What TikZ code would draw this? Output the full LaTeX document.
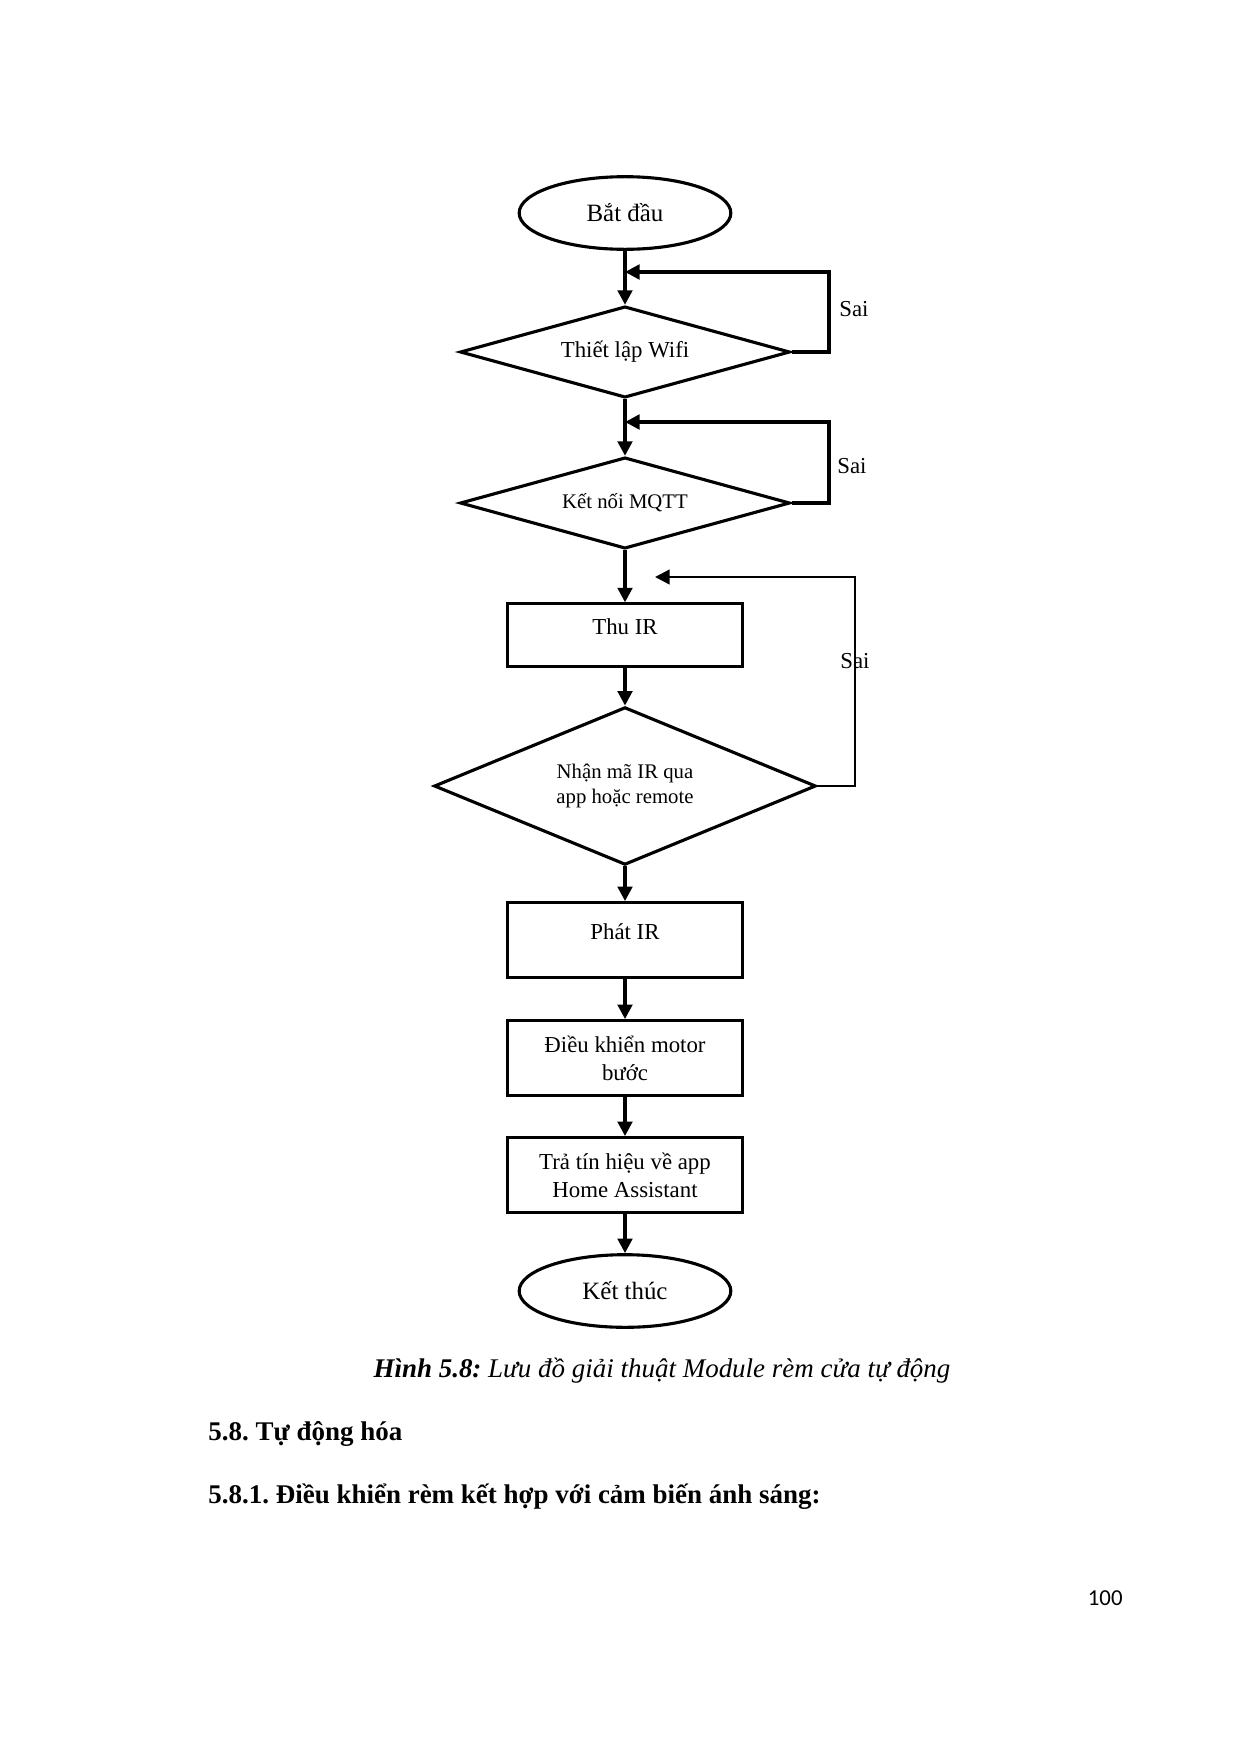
\documentclass[tikz,border=0pt]{standalone}
\usepackage{fontspec}
\setmainfont{Liberation Serif}
\newfontfamily\pagenofont{Carlito}
\usetikzlibrary{shapes.geometric}
\usetikzlibrary{arrows.meta}

\tikzset{
    terminal/.style={ellipse, draw, line width=1.5pt, minimum width=102pt, minimum height=35pt, inner sep=0pt, font=\fontsize{12}{14}\selectfont},
    decision/.style={diamond, draw, line width=1.5pt, inner sep=0pt, aspect=3, align=center, font=\fontsize{11}{12}\selectfont},
    process/.style={rectangle, draw, line width=1.5pt, minimum width=113pt, minimum height=36pt, inner sep=0pt, align=center, font=\fontsize{11}{13.4}\selectfont},
    toptext/.style={text depth=8pt},
    flow/.style={line width=1.6pt, -{Triangle[length=7pt,width=7pt]}},
    saitext/.style={anchor=west, font=\fontsize{11}{13}\selectfont}
}

\begin{document}
\frenchspacing
\begin{tikzpicture}[x=0.016933cm, y=-0.016933cm]

    \useasboundingbox (0, 0) rectangle (1240, 1754);

    % The flowchart blocks
    \node[terminal] (start) at (625, 213) {Bắt đầu};
    \node[decision, minimum width=159pt, minimum height=44pt] (wifi) at (625, 352) {Thiết lập Wifi};
    \node[decision, minimum width=159pt, minimum height=44pt, font=\fontsize{10}{12}\selectfont] (mqtt) at (625, 503) {Kết nối MQTT};
    \node[process, toptext, minimum height=30pt] (thuir) at (625, 635) {Thu IR};
    \node[decision, minimum width=184pt, minimum height=76pt, font=\fontsize{10}{12}\selectfont] (nhanma) at (625, 786) {Nhận mã IR qua\\app hoặc remote};
    \node[process, toptext] (phatir) at (625, 940) {Phát IR};
    \node[process] (motor) at (625, 1058) {Điều khiển motor\\bước};
    \node[process] (phanhoi) at (625, 1175) {Trả tín hiệu về app\\Home Assistant};
    \node[terminal] (stop) at (625, 1291) {Kết thúc};

    % Main flow
    \foreach \a/\b in {start/wifi, wifi/mqtt, mqtt/thuir, thuir/nhanma, nhanma/phatir, phatir/motor, motor/phanhoi, phanhoi/stop}{
        \draw[flow] (\a.south) -- (\b.north);
    }

    % Loops back on "Sai"
    \coordinate (loopwifi) at (829, 272);
    \coordinate (loopmqtt) at (829, 422);
    \coordinate (loopir) at (855, 577);
    \coordinate (tipir) at (655, 577);

    \draw[flow] (wifi.east) -| (loopwifi) -- (loopwifi -| start.south);
    \draw[flow] (mqtt.east) -| (loopmqtt) -- (loopmqtt -| start.south);
    \draw[flow, line width=1.1pt] (nhanma.east) -| (loopir) -- (tipir);

    \node[saitext] (saiwifi) at (832, 309) {Sai};
    \node[saitext] (saimqtt) at (830, 466) {Sai};
    \node[saitext] (saiir) at (833, 661) {Sai};

    % Caption and the text under it
    \node[anchor=base] (caption) at (662, 1377) {\fontsize{13}{15}\selectfont\textbf{\textit{Hình 5.8:}} \textit{Lưu đồ giải thuật Module rèm cửa tự động}};
    \node[anchor=base west, inner sep=0pt] (sec) at (208, 1440) {\fontsize{13}{15}\selectfont\bfseries 5.8. Tự động hóa};
    \node[anchor=base west, inner sep=0pt] (subsec) at (208, 1503) {\fontsize{13}{15}\selectfont\bfseries 5.8.1. Điều khiển rèm kết hợp với cảm biến ánh sáng:};
    \node[anchor=base east, inner sep=0pt] (pageno) at (1123, 1605) {\pagenofont\fontsize{11}{13}\selectfont 100};

\end{tikzpicture}
\end{document}
